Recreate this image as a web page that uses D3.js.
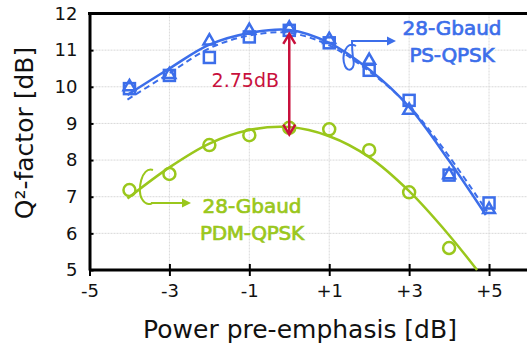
<!DOCTYPE html>
<html>
<head>
<meta charset="utf-8">
<script src="https://cdn.jsdelivr.net/npm/d3@7"></script>
<style>
  html, body { margin: 0; padding: 0; background: #fff; }
  svg { display: block; }
</style>
</head>
<body>
<figure id="chart" style="margin:0"></figure>
<script>
// values
const emphasis = [-4, -3, -2, -1, 0, 1, 2, 3, 4, 5];
const psSquares = [9.95, 10.31, 10.8, 11.36, 11.54, 11.2, 10.45, 9.63, 7.59, 6.83];
const psTriangles = [10.0, 10.33, 11.25, 11.54, 11.6, 11.29, 10.72, 9.36, 7.6, 6.65];
const pdmEmphasis = [-4, -3, -2, -1, 0, 1, 2, 3, 4];
const pdmCircles = [7.18, 7.62, 8.41, 8.68, 8.88, 8.84, 8.27, 7.12, 5.6];

// fitted trend lines
const psFitSolid = [[-4.05, 9.78], [-3, 10.5], [-2, 11.15], [-1, 11.47], [0, 11.55], [1, 11.2], [2, 10.47], [3, 9.45], [4, 7.98], [4.92, 6.5]];
const psFitDashed = [[-4.05, 9.65], [-3, 10.37], [-2, 11.05], [-1, 11.4], [0, 11.47], [1, 11.13], [2, 10.42], [3, 9.47], [4, 8.1], [4.95, 6.6]];
const pdmFit = [[-4.05, 6.95], [-3, 7.8], [-2, 8.45], [-1, 8.82], [0, 8.9], [1, 8.65], [2, 8.08], [3, 7.15], [4, 5.95], [4.7, 5.0]];

const xTicks = [-5, -3, -1, 1, 3, 5];
const xTickLabels = ["-5", "-3", "-1", "+1", "+3", "+5"];
const yTicks = [5, 6, 7, 8, 9, 10, 11, 12];
const gap = [0, 11.5, 8.75]; // x, top, bottom of the 2.75dB arrow

const width = 527, height = 349;
const blue = "#3c6eea", green = "#9ac71c", red = "#c8103c";
const font = "DejaVu Sans, Verdana, sans-serif";

const svg = d3.select("figure#chart")
  .append("svg")
  .attr("width", width)
  .attr("height", height);

const x = d3.scaleLinear().domain([-5, 6]).range([89.5, 529]);
const y = d3.scaleLinear().domain([5, 12]).range([270, 13.5]);

// grid
svg.append("g")
  .selectAll("line")
  .data(yTicks.filter(d => d > 5 && d < 12))
  .enter().append("line")
  .attr("x1", x(-5)).attr("x2", width)
  .attr("y1", d => y(d)).attr("y2", d => y(d))
  .attr("stroke", "#d9d9d9").attr("stroke-width", 1).attr("stroke-dasharray", "2,1");
svg.append("g")
  .selectAll("line")
  .data(xTicks.filter(d => d > -5))
  .enter().append("line")
  .attr("x1", d => x(d)).attr("x2", d => x(d))
  .attr("y1", y(12)).attr("y2", y(5))
  .attr("stroke", "#d9d9d9").attr("stroke-width", 1).attr("stroke-dasharray", "2,1");

// axes
const xAxis = svg.append("g")
  .attr("transform", "translate(0," + y(5) + ")")
  .call(d3.axisBottom(x).tickValues(xTicks).tickFormat((d, i) => xTickLabels[i]).tickSizeInner(6).tickSizeOuter(0).tickPadding(8));
xAxis.select(".domain").attr("stroke-width", 3).attr("d", "M" + x(-5) + ",0H" + width);
xAxis.selectAll(".tick line").attr("stroke-width", 2).attr("y1", -6);
xAxis.selectAll("text").attr("font-family", font).attr("font-size", 18).attr("fill", "#111");

const yAxis = svg.append("g")
  .attr("transform", "translate(" + x(-5) + ",0)")
  .call(d3.axisLeft(y).tickValues(yTicks).tickFormat(d3.format("d")).tickSizeInner(5).tickSizeOuter(0).tickPadding(7));
yAxis.select(".domain").attr("stroke-width", 3);
yAxis.selectAll(".tick line").attr("stroke-width", 2).attr("x2", 4);
yAxis.selectAll("text").attr("font-family", font).attr("font-size", 18).attr("fill", "#111");

// top frame
svg.append("line")
  .attr("x1", x(-5) - 1.5).attr("x2", width)
  .attr("y1", y(12)).attr("y2", y(12))
  .attr("stroke", "#000").attr("stroke-width", 3);

// axis titles
svg.append("text")
  .attr("x", 300).attr("y", 338)
  .attr("text-anchor", "middle")
  .attr("font-family", font).attr("font-size", 25).attr("fill", "#111")
  .text("Power pre-emphasis [dB]");
svg.append("text")
  .attr("transform", "translate(33," + 133 + ") rotate(-90)")
  .attr("text-anchor", "middle")
  .attr("font-family", font).attr("font-size", 25).attr("fill", "#111")
  .text("Q²-factor [dB]");

// fitted curves
const line = d3.line()
  .x(d => x(d[0]))
  .y(d => y(d[1]))
  .curve(d3.curveCatmullRom.alpha(0.5));

svg.append("path").datum(pdmFit)
  .attr("d", line).attr("fill", "none").attr("stroke", green).attr("stroke-width", 2.5);
svg.append("path").datum(psFitDashed)
  .attr("d", line).attr("fill", "none").attr("stroke", blue).attr("stroke-width", 2).attr("stroke-dasharray", "6,4");
svg.append("path").datum(psFitSolid)
  .attr("d", line).attr("fill", "none").attr("stroke", blue).attr("stroke-width", 2.5);

// markers
svg.append("g").selectAll("circle")
  .data(pdmCircles)
  .enter().append("circle")
  .attr("cx", (d, i) => x(pdmEmphasis[i]))
  .attr("cy", d => y(d))
  .attr("r", 6)
  .attr("fill", "none").attr("stroke", green).attr("stroke-width", 2.5);

svg.append("g").selectAll("rect")
  .data(psSquares)
  .enter().append("rect")
  .attr("x", (d, i) => x(emphasis[i]) - 5.5)
  .attr("y", d => y(d) - 5.5)
  .attr("width", 11).attr("height", 11)
  .attr("fill", "none").attr("stroke", blue).attr("stroke-width", 2.5);

const tri = d3.symbol().type(d3.symbolTriangle).size(60);
svg.append("g").selectAll("path")
  .data(psTriangles)
  .enter().append("path")
  .attr("d", tri)
  .attr("transform", (d, i) => "translate(" + x(emphasis[i]) + "," + y(d) + ")")
  .attr("fill", "none").attr("stroke", blue).attr("stroke-width", 2.5);

// 2.75dB arrow
const gx = x(gap[0]), gTop = y(gap[1]) + 2, gBot = y(gap[2]) + 2;
svg.append("line")
  .attr("x1", gx).attr("x2", gx).attr("y1", gTop + 1).attr("y2", gBot - 1)
  .attr("stroke", red).attr("stroke-width", 2.5);
svg.append("path")
  .attr("d", "M" + (gx - 6) + "," + (gTop + 10) + "L" + gx + "," + gTop + "L" + (gx + 6) + "," + (gTop + 10) +
    "M" + (gx - 6) + "," + (gBot - 10) + "L" + gx + "," + gBot + "L" + (gx + 6) + "," + (gBot - 10))
  .attr("fill", "none").attr("stroke", red).attr("stroke-width", 2.5);
svg.append("text")
  .attr("x", 279).attr("y", 87)
  .attr("text-anchor", "end")
  .attr("font-family", font).attr("font-size", 19).attr("fill", red)
  .text("2.75dB");

// series labels with loop arrows
function loopArrow(d, tipX, tipY, color) {
  svg.append("path").attr("d", d)
    .attr("fill", "none").attr("stroke", color).attr("stroke-width", 2);
  svg.append("path")
    .attr("d", "M" + tipX + "," + tipY + "l-9,-4.5v9z")
    .attr("fill", color);
}
loopArrow("M356,46 C346,40 341,56 345,66 C348,73 356,70 353,58 C352,50 352,43 352,41 L388,41", 396, 41, blue);
loopArrow("M153,170 C141,166 137,192 142,199 C146,206 152,204 152,203 L183,203", 191, 203, green);

const labels = svg.append("g")
  .attr("font-family", font).attr("font-size", 20).attr("text-anchor", "middle")
  .attr("stroke-width", 0.7).attr("paint-order", "stroke");
labels.append("text").attr("x", 452).attr("y", 35).attr("fill", blue).attr("stroke", blue).attr("textLength", 99).text("28-Gbaud");
labels.append("text").attr("x", 452).attr("y", 62).attr("fill", blue).attr("stroke", blue).attr("textLength", 85).text("PS-QPSK");
labels.append("text").attr("x", 252).attr("y", 213).attr("fill", green).attr("stroke", green).attr("textLength", 99).text("28-Gbaud");
labels.append("text").attr("x", 252).attr("y", 240).attr("fill", green).attr("stroke", green).attr("textLength", 104).text("PDM-QPSK");
</script>
</body>
</html>
